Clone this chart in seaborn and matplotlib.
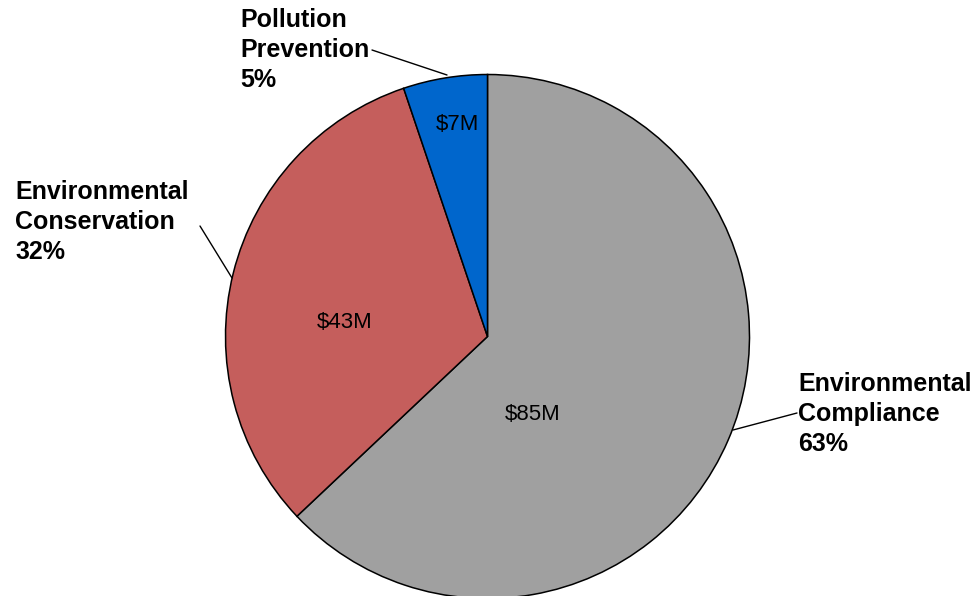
import matplotlib
matplotlib.use("Agg")
import matplotlib.pyplot as plt
import seaborn as sns

sns.set_theme(style="white")
plt.rcParams["font.family"] = ["Liberation Sans", "DejaVu Sans"]

# Budget by program area, in millions of dollars
categories = ["Environmental\nCompliance", "Environmental\nConservation", "Pollution\nPrevention"]
amounts = [85, 43, 7]
colors = ["#A0A0A0", "#C55E5C", "#0066CC"]

W, H = 976, 596
fig = plt.figure(figsize=(W / 100, H / 100), dpi=100)
ax = fig.add_axes([0, 0, 1, 1])

cx, cy, r = 487.5, H - 336.5, 262
total = sum(amounts)

wedges, texts = ax.pie(
    amounts,
    colors=colors,
    startangle=90,
    counterclock=False,
    center=(cx, cy),
    radius=r,
    wedgeprops=dict(edgecolor="black", linewidth=1.1),
    frame=True,
)
ax.set_xlim(0, W)
ax.set_ylim(0, H)
ax.set_aspect("equal")
ax.set_axis_off()

# Dollar labels inside the slices
inner_pos = [(533, 415), (345, 323), (457, 124)]
for amt, (px, py) in zip(amounts, inner_pos):
    ax.text(px, H - py, f"${amt}M", ha="center", va="center", fontsize=16, color="black")

# Category labels with leader lines
label_pos = [(798, 372), (15, 180), (240, 8)]
leaders = [((797, 413), (733, 430)), ((200, 226), (232, 278)), ((372, 50), (447, 75))]
for name, amt, (lx, ly), ((x0, y0), (x1, y1)) in zip(categories, amounts, label_pos, leaders):
    pct = round(100 * amt / total)
    ax.text(lx, H - ly, f"{name}\n{pct}%", ha="left", va="top", fontsize=18,
            fontweight="bold", color="black", linespacing=1.32)
    ax.plot([x0, x1], [H - y0, H - y1], color="black", linewidth=1.0)

fig.savefig("out.png", dpi=100)
